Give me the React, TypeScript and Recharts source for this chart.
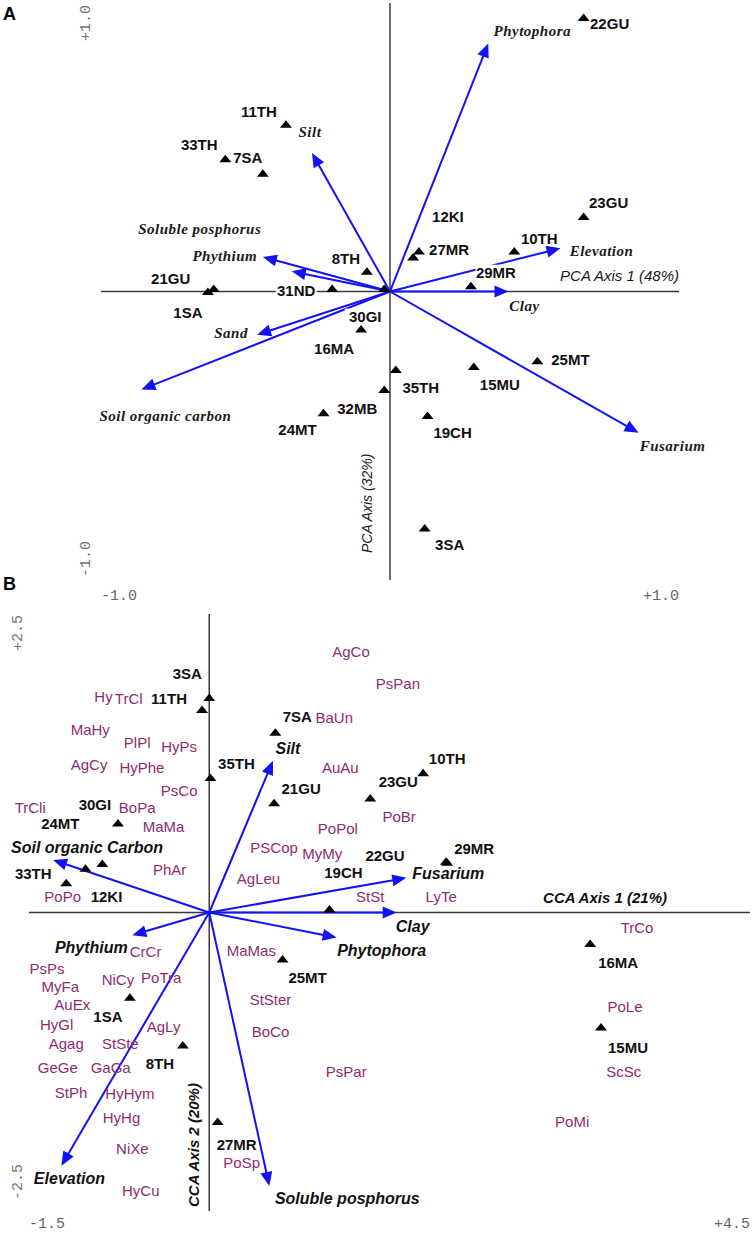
import React from "react";
import { ScatterChart, Scatter, XAxis, YAxis, ReferenceLine } from "recharts";

// ---------- Panel A (PCA) ----------
const aSiteNames = ["22GU", "11TH", "33TH", "7SA", "12KI", "27MR", "23GU", "10TH", "8TH", "29MR", "21GU", "1SA", "31ND", "30GI", "16MA", "25MT", "35TH", "15MU", "32MB", "24MT", "19CH", "3SA"];
const aSiteX = [0.67, -0.36, -0.57, -0.44, 0.1, 0.08, 0.67, 0.43, -0.08, 0.28, -0.61, -0.63, -0.2, -0.02, -0.1, 0.51, 0.02, 0.29, -0.02, -0.23, 0.13, 0.12];
const aSiteY = [0.95, 0.58, 0.46, 0.41, 0.14, 0.12, 0.26, 0.14, 0.07, 0.02, 0.01, 0.0, 0.01, 0.01, -0.13, -0.24, -0.27, -0.26, -0.34, -0.42, -0.43, -0.82];
// label placement next to each triangle (px)
const aSiteLabelOffset: [number, number][] = [[26, 6], [-27, -13], [-26, -14], [-15, -16], [29, -35], [36, -7], [25, -14], [25, -13], [-21, -13], [25, -13], [-43, -10], [-20, 21], [-36, 2], [-19, 28], [-27, 20], [33, -1], [25, 18], [26, 18], [-27, 19], [-26, 17], [25, 17], [25, 17]];

const aVarNames = ["Phytophora", "Silt", "Soluble posphorus", "Phythium", "Sand", "Soil organic carbon", "Clay", "Elevation", "Fusarium"];
const aVarX = [0.34, -0.27, -0.34, -0.44, -0.46, -0.86, 0.41, 0.59, 0.86];
const aVarY = [0.86, 0.48, 0.07, 0.12, -0.15, -0.34, 0, 0.15, -0.49];
const aVarLabelOffset: [number, number][] = [[44, -13], [-2, -21], [-92, -43], [-38, -1], [-26, -2], [24, 26], [16, 14], [41, 3], [34, 13]];

const aTicks = [-1, 1];
const aTickLabels = ["-1.0", "+1.0"];

// ---------- Panel B (CCA) ----------
const bSiteNames = ["3SA", "11TH", "7SA", "35TH", "21GU", "23GU", "10TH", "30GI", "24MT", "12KI", "33TH", "29MR", "22GU", "19CH", "25MT", "1SA", "8TH", "27MR", "16MA", "15MU"];
const bSiteX = [0.0, -0.06, 0.55, 0.01, 0.54, 1.34, 1.78, -0.76, -0.89, -1.03, -1.19, 1.98, 1.97, 1.0, 0.61, -0.66, -0.22, 0.07, 3.17, 3.26];
const bSiteY = [1.8, 1.7, 1.51, 1.13, 0.92, 0.96, 1.17, 0.75, 0.41, 0.37, 0.25, 0.42, 0.43, 0.03, -0.39, -0.71, -1.11, -1.75, -0.26, -0.96];
const bSiteLabelOffset: [number, number][] = [[-22, -24], [-33, -11], [22, -16], [26, -14], [27, -14], [28, -16], [24, -14], [-23, -18], [-42, -40], [21, 28], [-33, -9], [27, -14], [-61, -6], [14, -36], [25, 19], [-22, 19], [-23, 19], [19, 23], [28, 19], [27, 20]];

const bVarNames = ["Silt", "Soil organic Carbon", "Fusarium", "Clay", "Phytophora", "Phythium", "Elevation", "Soluble posphorus"];
const bVarX = [0.53, -1.3, 1.64, 1.56, 1.06, -0.64, -1.23, 0.5];
const bVarY = [1.27, 0.44, 0.29, 0, -0.21, -0.19, -2.12, -2.29];
const bVarLabelOffset: [number, number][] = [[15, -12], [34, -13], [42, -4], [16, 14], [45, 13], [-41, 12], [8, 13], [78, 12]];

const bSpeciesNames = ["AgCo", "PsPan", "Hy", "TrCl", "MaHy", "PlPl", "HyPs", "AgCy", "HyPhe", "PsCo", "TrCli", "BoPa", "MaMa", "PhAr", "PoPo", "BaUn", "AuAu", "PoPol", "PoBr", "PSCop", "MyMy", "AgLeu", "StSt", "LyTe", "CrCr", "PsPs", "MyFa", "NiCy", "PoTra", "AuEx", "HyGl", "AgLy", "Agag", "StSte", "GeGe", "GaGa", "StPh", "HyHym", "HyHg", "NiXe", "HyCu", "PoSp", "MaMas", "StSter", "BoCo", "PsPar", "TrCo", "PoLe", "ScSc", "PoMi"];
const bSpeciesX = [1.18, 1.57, -0.88, -0.67, -0.99, -0.6, -0.25, -1.0, -0.56, -0.25, -1.49, -0.6, -0.38, -0.33, -1.22, 1.04, 1.09, 1.07, 1.58, 0.54, 0.94, 0.41, 1.34, 1.93, -0.53, -1.35, -1.24, -0.76, -0.4, -1.14, -1.27, -0.38, -1.19, -0.74, -1.26, -0.82, -1.15, -0.66, -0.73, -0.64, -0.57, 0.27, 0.35, 0.51, 0.51, 1.14, 3.56, 3.46, 3.45, 3.02];
const bSpeciesY = [2.18, 1.92, 1.81, 1.79, 1.53, 1.42, 1.39, 1.24, 1.21, 1.02, 0.88, 0.88, 0.72, 0.36, 0.13, 1.63, 1.21, 0.7, 0.8, 0.54, 0.49, 0.28, 0.13, 0.13, -0.33, -0.47, -0.62, -0.56, -0.55, -0.77, -0.94, -0.96, -1.1, -1.1, -1.3, -1.3, -1.51, -1.52, -1.72, -1.98, -2.33, -2.1, -0.32, -0.73, -1.0, -1.33, -0.13, -0.79, -1.33, -1.75];

const bXTicks = [-1.5, 4.5];
const bXTickLabels = ["-1.5", "+4.5"];
const bYTicks = [-2.5, 2.5];
const bYTickLabels = ["-2.5", "+2.5"];

const BLUE = "#1212f2";
const SANS = "'Liberation Sans', Arial, sans-serif";
const SERIF = "'Liberation Serif', 'Times New Roman', serif";
const MONO = "'Liberation Mono', 'Courier New', monospace";
const PURPLE = "#8e2c6e";

const rows = (names: string[], xs: number[], ys: number[], offs?: [number, number][]) =>
  names.map((name, i) => ({ name, x: xs[i], y: ys[i], off: offs ? offs[i] : [0, 0] }));

const aSites = rows(aSiteNames, aSiteX, aSiteY, aSiteLabelOffset);
const bSites = rows(bSiteNames, bSiteX, bSiteY, bSiteLabelOffset);
const bSpecies = rows(bSpeciesNames, bSpeciesX, bSpeciesY);

const serifLabel = { fontFamily: SERIF, fontStyle: "italic", fontWeight: "bold", fontSize: 15, letterSpacing: 0.5, fill: "#1a1a1a" } as const;
const sansLabel = { fontFamily: SANS, fontStyle: "italic", fontWeight: "bold", fontSize: 16, fill: "#111" } as const;

function arrowShape(label: string, off: [number, number], font: any) {
  return (p: any) => {
    const { x1, y1, x2, y2 } = p;
    const dx = x2 - x1, dy = y2 - y1;
    const len = Math.hypot(dx, dy) || 1;
    const ux = dx / len, uy = dy / len;
    const L = 14, W = 6;
    const bx = x2 - ux * L, by = y2 - uy * L;
    const pts = `${x2},${y2} ${bx - uy * W},${by + ux * W} ${bx + uy * W},${by - ux * W}`;
    return (
      <g>
        <line x1={x1} y1={y1} x2={bx + ux * 2} y2={by + uy * 2} stroke={BLUE} strokeWidth={2} />
        <polygon points={pts} fill={BLUE} />
        <text x={x2 + off[0]} y={y2 + off[1]} dy="0.35em" textAnchor="middle" style={font}>{label}</text>
      </g>
    );
  };
}

const siteLabel = (p: any) => {
  const { cx, cy, payload } = p;
  if (cx == null || cy == null) return <g />;
  const lx = cx + payload.off[0], ly = cy + payload.off[1];
  const w = payload.name.length * 9.2 + 4;
  return (
    <g>
      <rect x={lx - w / 2} y={ly - 8} width={w} height={16} fill="#fff" />
      <text x={lx} y={ly} dy="0.36em" textAnchor="middle" fontFamily={SANS} fontWeight="bold" fontSize={15} fill="#111">{payload.name}</text>
    </g>
  );
};

const triangle = (p: any) => {
  const { cx, cy } = p;
  if (cx == null || cy == null) return <g />;
  return <polygon points={`${cx},${cy - 4} ${cx - 6},${cy + 3.5} ${cx + 6},${cy + 3.5}`} fill="#000" />;
};

const speciesLabel = (p: any) => {
  const { cx, cy, payload } = p;
  if (cx == null || cy == null) return <g />;
  return <text x={cx} y={cy} dy="0.35em" textAnchor="middle" fontFamily={SANS} fontSize={15} fill={PURPLE}>{payload.name}</text>;
};

const xTick = (ticks: number[], labels: string[], dy: number) => (p: any) => {
  const v = p.payload ? p.payload.value : undefined;
  const i = ticks.indexOf(v);
  if (i < 0) return <g />;
  return (
    <text x={p.x} y={p.y + dy} textAnchor={i === 0 ? "start" : "end"} fontFamily={MONO} fontSize={15} fill="#666">{labels[i]}</text>
  );
};

const yTick = (ticks: number[], labels: string[], shiftX: number, topIn: number, botIn: number) => (p: any) => {
  const v = p.payload ? p.payload.value : undefined;
  const i = ticks.indexOf(v);
  if (i < 0) return <g />;
  const isTop = i === ticks.length - 1;
  const tx = p.x + shiftX;
  const ty = isTop ? p.y + topIn : p.y - botIn;
  return (
    <text x={tx} y={ty} transform={`rotate(-90 ${tx} ${ty})`} textAnchor={isTop ? "end" : "start"} fontFamily={MONO} fontSize={15} fill="#667766">{labels[i]}</text>
  );
};

export default function App() {
  return (
    <div style={{ position: "absolute", left: 0, top: 0, width: 754, height: 1234, background: "#fff" }}>
      <div style={{ position: "absolute", left: 0, top: 0 }}>
        <ScatterChart width={754} height={605} margin={{ top: 3, right: 75, bottom: 0, left: 81 }}>
          <XAxis type="number" dataKey="x" domain={[-1, 1]} ticks={aTicks} interval={0} height={25}
            axisLine={false} tickLine={false} tick={xTick(aTicks, aTickLabels, 12)} />
          <YAxis type="number" dataKey="y" domain={[-1, 1]} ticks={aTicks} interval={0} width={20}
            axisLine={false} tickLine={false} tick={yTick(aTicks, aTickLabels, -3, 2, 3)} />
          <ReferenceLine y={0} stroke="#3a3a3a" strokeWidth={1.5} />
          <ReferenceLine x={0} stroke="#3a3a3a" strokeWidth={1.5} />
          {aVarNames.map((n, i) => (
            <ReferenceLine key={n} segment={[{ x: 0, y: 0 }, { x: aVarX[i], y: aVarY[i] }]}
              shape={arrowShape(n, aVarLabelOffset[i], serifLabel)} />
          ))}
          <Scatter data={aSites} shape={siteLabel} isAnimationActive={false} />
          <Scatter data={aSites} shape={triangle} isAnimationActive={false} />
        </ScatterChart>
      </div>
      <div style={{ position: "absolute", left: 0, top: 600 }}>
        <ScatterChart width={754} height={634} margin={{ top: 14, right: 4, bottom: 0, left: 9 }}>
          <XAxis type="number" dataKey="x" domain={[-1.5, 4.5]} ticks={bXTicks} interval={0} height={23}
            axisLine={false} tickLine={false} tick={xTick(bXTicks, bXTickLabels, 9)} />
          <YAxis type="number" dataKey="y" domain={[-2.5, 2.5]} ticks={bYTicks} interval={0} width={20}
            axisLine={false} tickLine={false} tick={yTick(bYTicks, bYTickLabels, 1, 1, 11)} />
          <ReferenceLine y={0} stroke="#3a3a3a" strokeWidth={1.5} />
          <ReferenceLine x={0} stroke="#3a3a3a" strokeWidth={1.5} />
          {bVarNames.map((n, i) => (
            <ReferenceLine key={n} segment={[{ x: 0, y: 0 }, { x: bVarX[i], y: bVarY[i] }]}
              shape={arrowShape(n, bVarLabelOffset[i], sansLabel)} />
          ))}
          <Scatter data={bSites} shape={siteLabel} isAnimationActive={false} />
          <Scatter data={bSpecies} shape={speciesLabel} isAnimationActive={false} />
          <Scatter data={bSites} shape={triangle} isAnimationActive={false} />
        </ScatterChart>
      </div>
      <svg width={754} height={1234} style={{ position: "absolute", left: 0, top: 0, pointerEvents: "none" }}>
        <text x={3} y={20} fontFamily={SANS} fontWeight="bold" fontSize={18} fill="#000">A</text>
        <text x={3} y={590} fontFamily={SANS} fontWeight="bold" fontSize={18} fill="#000">B</text>
        <text x={679} y={281} textAnchor="end" fontFamily={SANS} fontStyle="italic" fontSize={15} fill="#1a1a1a">PCA Axis 1 (48%)</text>
        <text x={372} y={553} transform="rotate(-90 372 553)" fontFamily={SANS} fontStyle="italic" fontSize={14} fill="#1a1a1a">PCA Axis (32%)</text>
        <text x={667} y={903} textAnchor="end" fontFamily={SANS} fontStyle="italic" fontWeight="bold" fontSize={15} fill="#111">CCA Axis 1 (21%)</text>
        <text x={199} y={1207} transform="rotate(-90 199 1207)" fontFamily={SANS} fontStyle="italic" fontWeight="bold" fontSize={15} fill="#111">CCA Axis 2 (20%)</text>
      </svg>
    </div>
  );
}
